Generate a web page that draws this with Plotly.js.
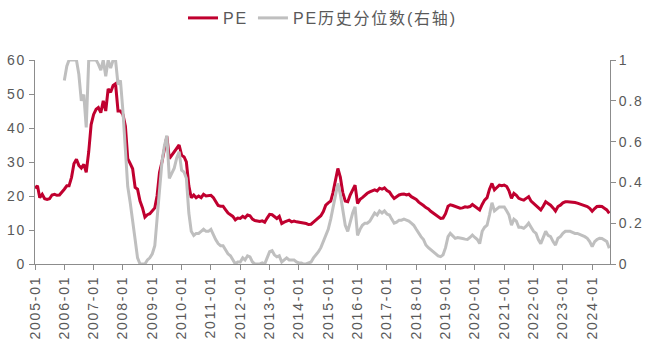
<!DOCTYPE html>
<html>
<head>
<meta charset="utf-8">
<script src="https://cdn.plot.ly/plotly-3.0.1.min.js"></script>
<style>
html, body { margin: 0; padding: 0; background: #fff; }
#chart { width: 659px; height: 351px; }
svg text { letter-spacing: 1.8px; }
</style>
</head>
<body>
<div id="chart"></div>
<script>
// Monthly data, first month 2005-01
var startYear = 2005;
var seriesNames = ["PE", "PE历史分位数(右轴)"];

var pe = [
  22.3, 23, 19.5, 20.5, 19.2, 19, 19.2, 20.3, 20.5, 20.2, 20.3, 21,
  22, 23, 23, 25.5, 29.5, 30.8, 29, 28.2, 29.3, 27, 33, 41,
  44, 45.5, 46, 44.5, 48, 45, 51.5, 50.5, 52.5, 53, 45, 45,
  44, 40.5, 31, 29.5, 28, 22.5, 22, 18.5, 16.5, 13.8, 14.5, 14.8,
  15.5, 16.5, 20, 27, 30, 34, 37.5, 31, 32, 33, 34.2, 35,
  32, 31.5, 30, 23, 19.5, 20.3, 19.5, 20, 19.5, 20.5, 20, 20,
  20.2, 19.5, 18.2, 17.2, 17, 17, 16, 15, 14.5, 14, 13, 13.5,
  13.4, 14, 13.6, 14.4, 14.2, 13.2, 12.8, 12.6, 12.5, 12.7, 12.3, 13.5,
  14.6, 14.5, 13.9, 13.4, 14, 11.9, 12.3, 12.6, 12.9, 12.4, 12.6, 12.4,
  12.3, 12.2, 12, 11.9, 11.6, 11.7, 12.3, 12.9, 13.6, 14.2, 15.4, 17.3,
  18, 18.5, 21, 25, 28.1, 25.5, 21, 18.5, 18.3, 20.3, 22, 23.2,
  17.8, 19, 19.5, 20.2, 20.8, 21.2, 21.5, 21.8, 21.5, 22.3, 22, 22.4,
  21.6, 21.2, 20.2, 19.3, 19.8, 20.3, 20.5, 20.6, 20.3, 20.5, 19.8, 19.3,
  19, 18.2, 17.8, 17.2, 16.6, 16.2, 15.5, 15, 14.6, 14, 13.4, 13.5,
  14.8, 17, 17.4, 17.2, 16.9, 16.6, 16.4, 16.5, 16.8, 16.7, 16.9, 17.5,
  17, 16.5, 15.9, 17.5, 18.8, 19.5, 22, 23.7, 21.8, 22.5, 23.2, 23,
  23.2, 22.8, 21.5, 19.3, 20.8, 20.2, 19.3, 19, 18.8, 19.3, 19.8, 18.5,
  17.8, 17.2, 16.5, 15.9, 17, 18.3, 17.8, 17.3, 16.5, 15.6, 16.9, 17.3,
  18, 18.3, 18.3, 18.3, 18.2, 18.1, 17.9, 17.7, 17.5, 17.2, 16.9, 16.4,
  15.5, 16.3, 16.9, 17, 16.9, 16.4, 15.9, 14.9
];

var pct = [
  null, null, null, null, null, null, null, null, null, null, null, null,
  0.90, 0.97, 1.0, 1.0, 1.0, 1.0, 0.93, 0.8, 0.83, 0.67, 1.0, 1.0,
  1.0, 1.0, 0.98, 0.95, 1.0, 0.92, 1.0, 0.96, 1.0, 1.0, 0.88, 0.9,
  0.75, 0.58, 0.38, 0.3, 0.22, 0.12, 0.03, 0, 0, 0, 0.02, 0.03,
  0.05, 0.09, 0.22, 0.38, 0.5, 0.58, 0.63, 0.42, 0.45, 0.47, 0.52, 0.55,
  0.46, 0.45, 0.42, 0.25, 0.16, 0.14, 0.15, 0.15, 0.16, 0.17, 0.16, 0.16,
  0.17, 0.14, 0.12, 0.1, 0.09, 0.09, 0.07, 0.05, 0.04, 0.02, 0, 0.01,
  0.01, 0.03, 0.02, 0.04, 0.035, 0.01, 0, 0, 0, 0.005, 0, 0.03,
  0.06, 0.065, 0.045, 0.035, 0.04, 0.01, 0.02, 0.03, 0.02, 0.02, 0.02, 0.01,
  0.005, 0.005, 0, 0, 0.005, 0.01, 0.03, 0.044, 0.06, 0.08, 0.11, 0.142,
  0.17, 0.22, 0.28, 0.34, 0.395, 0.34, 0.26, 0.19, 0.16, 0.21, 0.25, 0.28,
  0.14, 0.17, 0.19, 0.2, 0.2, 0.21, 0.23, 0.25, 0.24, 0.26, 0.25, 0.26,
  0.245, 0.24, 0.22, 0.2, 0.205, 0.215, 0.215, 0.22, 0.215, 0.21, 0.2, 0.19,
  0.17, 0.15, 0.134, 0.12, 0.093, 0.08, 0.07, 0.06, 0.05, 0.04, 0.036, 0.045,
  0.08, 0.134, 0.15, 0.14, 0.126, 0.13, 0.126, 0.125, 0.122, 0.12, 0.13, 0.142,
  0.13, 0.12, 0.10, 0.16, 0.18, 0.19, 0.24, 0.30, 0.26, 0.27, 0.28, 0.28,
  0.28, 0.26, 0.24, 0.19, 0.22, 0.21, 0.18, 0.18, 0.175, 0.185, 0.2, 0.18,
  0.16, 0.15, 0.12, 0.10, 0.13, 0.16, 0.14, 0.134, 0.11, 0.093, 0.126, 0.134,
  0.15, 0.16, 0.16, 0.16, 0.155, 0.15, 0.15, 0.145, 0.14, 0.134, 0.126, 0.11,
  0.085, 0.11, 0.12, 0.126, 0.125, 0.115, 0.11, 0.077
];

var months = [];
for (var i = 0; i < pe.length; i++) {
  var y = startYear + Math.floor(i / 12);
  var m = (i % 12) + 1;
  months.push(y + "-" + (m < 10 ? "0" + m : m) + "-01");
}

var fontFam = "'Liberation Sans', Arial, 'Noto Sans CJK SC', sans-serif";
var txtColor = "#595959";
var axColor = "#8c8c8c";

var traces = [
  {
    x: months, y: pe, name: seriesNames[0], type: "scatter", mode: "lines",
    line: { color: "#c0002f", width: 3 }, yaxis: "y"
  },
  {
    x: months, y: pct, name: seriesNames[1], type: "scatter", mode: "lines",
    line: { color: "#bfbfbf", width: 3 }, yaxis: "y2", connectgaps: false
  }
];

var layout = {
  width: 659, height: 351,
  margin: { l: 35, r: 49, t: 60, b: 87, pad: 0 },
  paper_bgcolor: "#ffffff", plot_bgcolor: "#ffffff",
  font: { family: fontFam, size: 14, color: txtColor },
  showlegend: true,
  legend: {
    orientation: "h", x: 0.5, xanchor: "center",
    yref: "container", y: 1 - 18 / 351, yanchor: "middle",
    font: { family: fontFam, size: 16, color: txtColor },
    traceorder: "normal", itemwidth: 30
  },
  xaxis: {
    type: "date",
    range: ["2005-01-01", "2024-08-10"],
    tick0: "2005-01-01", dtick: "M12", tickformat: "%Y-%m",
    tickangle: -90,
    ticks: "outside", ticklen: 5, tickcolor: axColor,
    showline: true, linecolor: axColor, linewidth: 1,
    showgrid: false, zeroline: false,
    tickfont: { family: fontFam, size: 14, color: txtColor }
  },
  yaxis: {
    range: [0, 60], dtick: 10,
    ticks: "outside", ticklen: 5, tickcolor: axColor,
    showline: true, linecolor: axColor, linewidth: 1,
    showgrid: false, zeroline: false,
    tickfont: { family: fontFam, size: 14, color: txtColor }
  },
  yaxis2: {
    range: [0, 1], dtick: 0.2, overlaying: "y", side: "right",
    ticks: "outside", ticklen: 5, tickcolor: axColor,
    showline: true, linecolor: axColor, linewidth: 1,
    showgrid: false, zeroline: false,
    tickfont: { family: fontFam, size: 14, color: txtColor }
  }
};

Plotly.newPlot("chart", traces, layout, { displayModeBar: false, staticPlot: true });
</script>
</body>
</html>
